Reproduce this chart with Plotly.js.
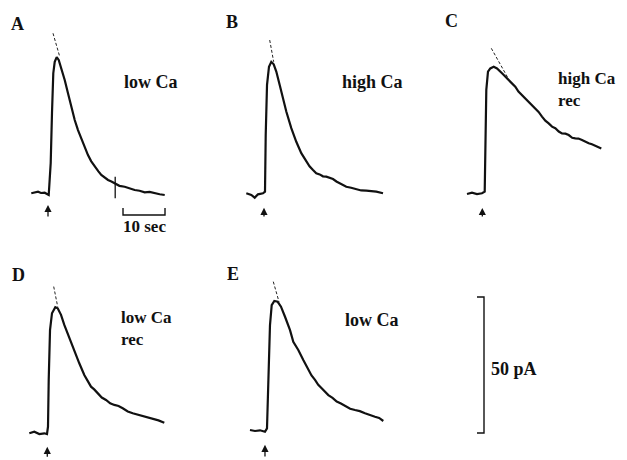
<!DOCTYPE html>
<html><head><meta charset="utf-8">
<script src="https://cdn.plot.ly/plotly-3.0.1.min.js"></script>
<style>html,body{margin:0;padding:0;background:#fff}#chart{width:627px;height:460px}</style>
</head><body><div id="chart"></div>
<script>
// ---- DATA: time (s, 0 = stimulus arrow) and current (pA above baseline) ----
const tA = [-3.98,-3.33,-2.38,-1.67,-0.79,0.17,0.64,0.95,1.26,1.60,2.07,2.55,3.17,3.98,4.76,5.55,6.36,7.14,8.33,9.52,10.3,11.12,12.0,12.69,13.5,14.29,15.1,15.88,17.0,18.26,19.4,20.64,21.8,23.02,24.2,25.4,26.6,27.79];
const iA = [0.26,0.55,0.85,0.37,0.48,-0.37,11.3,29.7,44.4,48.6,50.3,49.3,46.2,41.9,37.0,32.1,27.2,23.5,18.6,14.3,12.0,10.0,8.3,7.0,5.9,5.15,4.6,3.93,3.0,2.68,2.1,1.47,1.2,0.63,0.8,0.26,-0.1,-0.37];
const tB = [-4.45,-3.26,-2.45,-1.67,-0.48,0,0.17,0.48,0.95,1.50,2.07,2.69,3.50,4.29,5.07,6.26,7.45,8.64,9.83,10.6,11.43,12.2,13.02,13.8,14.60,15.4,16.19,17.0,17.79,18.6,19.36,20.5,21.74,22.9,24.12,25.3,26.5,28.1];
const iB = [0.26,-0.37,-1.36,-0.11,0.26,0.85,21.7,40.1,46.8,48.6,47.7,45.0,40.1,35.2,30.3,24.2,19.2,15.0,11.9,10.2,8.8,7.6,7.2,6.5,6.36,6.0,5.51,4.6,3.93,3.4,2.68,2.3,1.84,1.3,1.21,1.0,0.85,0.26];
const tC = [-4.05,-2.86,-1.67,-0.48,0.17,0.31,0.55,0.95,1.50,2.31,3.10,4.29,5.88,7.45,8.2,9.05,9.9,10.64,11.4,12.21,13.0,13.81,14.6,15.40,16.2,16.98,17.8,18.57,19.4,20.17,21.0,21.74,22.5,23.33,24.1,24.93,25.7,26.5,27.2,27.93];
const iC = [-0.37,0.11,-0.37,-0.11,0.48,19.5,37.9,44.6,45.8,46.4,45.8,44.0,41.5,39.1,37.3,36.0,34.6,33.6,32.6,31.1,29.8,28.1,26.6,25.6,24.4,23.8,22.6,21.9,21.8,21.3,20.3,20.1,20.0,19.5,18.8,18.3,17.9,17.3,17.0,16.4];
const tD = [-4.45,-3.26,-2.07,-0.88,-0.24,0,0.17,0.48,0.95,1.74,2.31,3.10,3.88,5.07,6.26,7.45,8.64,10.24,11.0,11.83,12.8,13.81,14.8,15.79,16.8,17.79,19.0,20.17,21.4,22.55,23.7,24.93,26.3,27.69];
const iD = [0.26,0.85,0,0.26,0,2.68,19.9,38.2,44.4,46.6,46.2,43.8,40.1,35.2,30.3,26.0,21.7,17.4,16.4,15.0,13.4,12.5,11.3,10.7,10.3,9.45,8.3,7.61,7.1,6.36,6.0,5.40,5.0,4.15];
const tE = [-4.05,-2.86,-1.67,-0.48,0,0.31,0.71,1.12,1.74,2.55,3.33,4.29,5.48,6.26,7.45,8.64,9.83,10.6,11.43,12.2,13.02,13.8,14.60,15.6,16.60,17.6,18.57,19.8,20.95,22.1,23.33,24.5,25.71,26.7,27.69];
const iE = [0.37,0,0.26,-0.26,0.99,20.6,38.9,46.3,47.8,47.5,45.7,42.0,37.1,32.8,29.8,26.1,22.4,20.4,18.8,17.0,15.7,14.6,13.2,12.2,10.8,10.1,9.19,8.2,7.72,7.3,6.51,5.8,5.26,4.8,3.68];
// extrapolated exponential-fit segments (dashed)
const fitT = [[1.19,2.79],[1.12,2.07],[1.74,5.88],[1.36,2.31],[1.5,2.86]];
const fitI = [[59.1,50.5],[56.6,48.6],[53.2,41.8],[54.2,46.8],[54.9,47.5]];
// stimulus arrows (tip and tail, pA)
const arrowT = [0,-0.24,-0.4,-0.17,-0.48];
const arrowTip = [-4.0,-5.1,-5.5,-4.7,-5.1];
const arrowTail = [-8.8,-8.8,-9.2,-8.9,-9.9];
// tick mark on trace A
const markT = [16.0,16.0];
const markI = [6.36,-1.58];
// scale bars
const timeBarSec = 10;
const currentBarPA = 50;
const panelLetters = ['A','B','C','D','E'];
const conditionLabels = ['low Ca','high Ca','high Ca<br>rec','low Ca<br>rec','low Ca'];

// ---- LAYOUT GEOMETRY (pixels) ----
const W=627, H=460, PXS=4.2, PXA=2.72;
const panels = [
  {cell:[0,210,0,230],    origin:[48,194]},
  {cell:[210,420,0,230],  origin:[265,194]},
  {cell:[420,627,0,230],  origin:[484,193]},
  {cell:[0,210,230,460],  origin:[48,434]},
  {cell:[210,420,230,460],origin:[267,431]},
  {cell:[420,627,230,460],origin:[484,433]}
];
const letterPos = [[17,24],[232,22],[451,21],[18,275],[233,274]];
const labelPos = [[151,82],[372,82],[556,90],[119,328],[372,320]];
const labelAnchor = ['center','center','left','left','center'];

const series = [[tA,iA],[tB,iB],[tC,iC],[tD,iD],[tE,iE]];
const layout = {width:W,height:H,margin:{l:0,r:0,t:0,b:0},paper_bgcolor:'#fff',plot_bgcolor:'rgba(0,0,0,0)',showlegend:false,annotations:[],font:{family:'Liberation Serif, Times New Roman, serif',color:'#111'}};
const traces = [];
const px = (x)=>x/W, py=(y)=>1-y/H;
panels.forEach((p,k)=>{
  const n = k===0?'':String(k+1);
  const [cx0,cx1,cy0,cy1]=p.cell, [x0,y0]=p.origin;
  layout['xaxis'+n] = {domain:[cx0/W,cx1/W],range:[(cx0-x0)/PXS,(cx1-x0)/PXS],visible:false,anchor:'y'+n,fixedrange:true};
  layout['yaxis'+n] = {domain:[1-cy1/H,1-cy0/H],range:[(y0-cy1)/PXA,(y0-cy0)/PXA],visible:false,anchor:'x'+n,fixedrange:true};
});
const ax=(k)=>k===0?'x':'x'+(k+1), ay=(k)=>k===0?'y':'y'+(k+1);
series.forEach((s,k)=>{
  traces.push({x:s[0],y:s[1],xaxis:ax(k),yaxis:ay(k),mode:'lines',line:{color:'#111',width:2.2},hoverinfo:'skip',cliponaxis:false});
  traces.push({x:fitT[k],y:fitI[k],xaxis:ax(k),yaxis:ay(k),mode:'lines',line:{color:'#222',width:1,dash:'3px,2px'},hoverinfo:'skip',cliponaxis:false});
  layout.annotations.push({xref:ax(k),yref:ay(k),axref:ax(k),ayref:ay(k),x:arrowT[k],y:arrowTip[k],ax:arrowT[k],ay:arrowTail[k],showarrow:true,arrowhead:2,arrowsize:1.1,arrowwidth:1.3,arrowcolor:'#111',text:''});
  layout.annotations.push({xref:'paper',yref:'paper',x:px(letterPos[k][0]),y:py(letterPos[k][1]),text:'<b>'+panelLetters[k]+'</b>',showarrow:false,xanchor:'center',yanchor:'middle',font:{size:18,color:'#111'}});
  layout.annotations.push({xref:'paper',yref:'paper',x:px(labelPos[k][0]),y:py(labelPos[k][1]),text:'<b>'+conditionLabels[k]+'</b>',showarrow:false,align:'left',xanchor:labelAnchor[k],yanchor:'middle',font:{size:k===2||k===3?17:18,color:'#111'}});
});
// tick mark on A
traces.push({x:markT,y:markI,xaxis:'x',yaxis:'y',mode:'lines',line:{color:'#111',width:1.3},hoverinfo:'skip'});
// 10 sec bar in panel A
const tb0 = 17.86, tbY = -7.72, tbTick = 2.6;
traces.push({x:[tb0,tb0,tb0+timeBarSec,tb0+timeBarSec],y:[tbY+tbTick,tbY,tbY,tbY+tbTick],xaxis:'x',yaxis:'y',mode:'lines',line:{color:'#111',width:1.4},hoverinfo:'skip',cliponaxis:false});
layout.annotations.push({xref:'x',yref:'paper',x:tb0+timeBarSec/2,y:py(227),text:'<b>'+timeBarSec+' sec</b>',showarrow:false,xanchor:'center',yanchor:'middle',font:{size:17,color:'#111'}});
// 50 pA bar in panel F
const cbTick = -1.67;
traces.push({x:[cbTick,0,0,cbTick],y:[0,0,currentBarPA,currentBarPA],xaxis:'x6',yaxis:'y6',mode:'lines',line:{color:'#111',width:1.4},hoverinfo:'skip',cliponaxis:false});
layout.annotations.push({xref:'paper',yref:'y6',x:px(489),y:currentBarPA*0.47,text:'<b>'+currentBarPA+' pA</b>',showarrow:false,xanchor:'left',yanchor:'middle',font:{size:18,color:'#111'}});

Plotly.newPlot('chart',traces,layout,{staticPlot:true,displayModeBar:false});
</script></body></html>
